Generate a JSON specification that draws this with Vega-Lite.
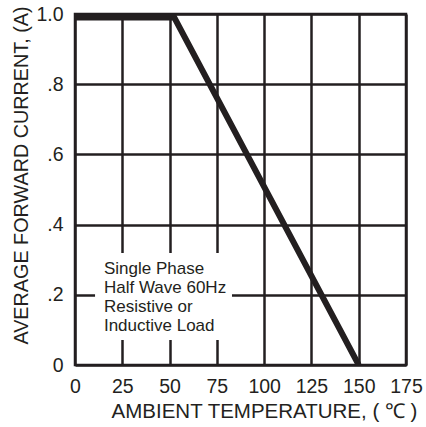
{
  "$schema": "https://vega.github.io/schema/vega-lite/v6.json",
  "width": 331,
  "height": 351,
  "autosize": "none",
  "padding": {"left": 75, "top": 14, "right": 20, "bottom": 62},
  "background": "white",
  "config": {
    "view": {"stroke": "#231f20", "strokeWidth": 2.5},
    "font": "Liberation Sans",
    "axis": {
      "grid": true,
      "gridColor": "#231f20",
      "gridWidth": 2.5,
      "gridOpacity": 1,
      "domain": false,
      "ticks": false,
      "labelFlush": false,
      "labelOverlap": false,
      "labelFont": "Liberation Sans",
      "labelFontSize": 19.5,
      "labelColor": "#231f20",
      "titleFont": "Liberation Sans",
      "titleFontSize": 20.5,
      "titleFontWeight": "normal",
      "titleColor": "#231f20"
    }
  },
  "datasets": {
    "curve": [
      {"temp": 0, "current": 0.99},
      {"temp": 52.5, "current": 0.99},
      {"temp": 150, "current": 0}
    ],
    "box": [
      {"x1": 10.6, "x2": 83, "y1": 0.071, "y2": 0.319}
    ],
    "notes": [
      {"tx": 15.3, "ty": 0.258, "label": "Single Phase"},
      {"tx": 15.3, "ty": 0.204, "label": "Half Wave 60Hz"},
      {"tx": 15.3, "ty": 0.151, "label": "Resistive or"},
      {"tx": 15.3, "ty": 0.098, "label": "Inductive Load"}
    ]
  },
  "layer": [
    {
      "data": {"name": "curve"},
      "mark": {"type": "line", "color": "#231f20", "strokeWidth": 6, "strokeCap": "butt", "strokeJoin": "miter", "clip": true},
      "encoding": {
        "x": {
          "field": "temp", "type": "quantitative",
          "scale": {"domain": [0, 175], "nice": false, "zero": false},
          "axis": {
            "values": [0, 25, 50, 75, 100, 125, 150, 175],
            "title": "AMBIENT TEMPERATURE, ( ℃ )",
            "labelBaseline": "alphabetic",
            "labelPadding": 27,
            "titleX": 189,
            "titleY": 52,
            "titleBaseline": "alphabetic",
            "titleAnchor": "middle",
            "titleAlign": "center"
          }
        },
        "y": {
          "field": "current", "type": "quantitative",
          "scale": {"domain": [0, 1], "nice": false},
          "axis": {
            "values": [0, 0.2, 0.4, 0.6, 0.8, 1.0],
            "labelExpr": "datum.value == 1 ? '1.0' : datum.value == 0 ? '0' : slice(format(datum.value, '.1f'), 1)",
            "labelPadding": 12,
            "title": "AVERAGE FORWARD CURRENT, (A)",
            "titleFontSize": 19.8,
            "titleX": -48,
            "titleY": 161,
            "titleAngle": -90,
            "titleBaseline": "alphabetic",
            "titleAlign": "center"
          }
        }
      }
    },
    {
      "data": {"name": "box"},
      "mark": {"type": "rect", "fill": "white", "stroke": null},
      "encoding": {
        "x": {"field": "x1", "type": "quantitative"},
        "x2": {"field": "x2"},
        "y": {"field": "y1", "type": "quantitative"},
        "y2": {"field": "y2"}
      }
    },
    {
      "data": {"name": "notes"},
      "mark": {"type": "text", "align": "left", "baseline": "alphabetic", "fontSize": 17, "font": "Liberation Sans", "color": "#231f20"},
      "encoding": {
        "x": {"field": "tx", "type": "quantitative"},
        "y": {"field": "ty", "type": "quantitative"},
        "text": {"field": "label"}
      }
    }
  ]
}
